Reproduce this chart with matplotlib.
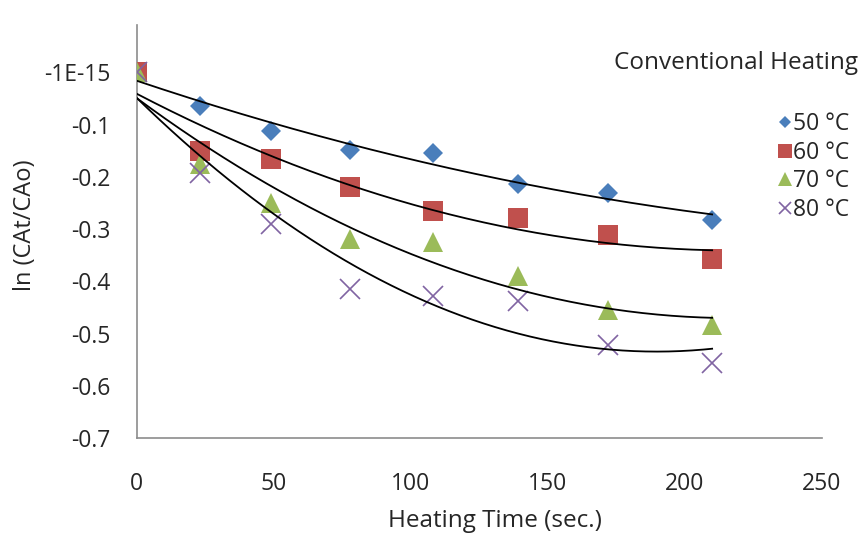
import numpy as np
import matplotlib
matplotlib.use("Agg")
import matplotlib.pyplot as plt
from matplotlib.lines import Line2D

plt.rcParams['font.family'] = ['Open Sans', 'DejaVu Sans']

# ---- data ----
time_s = [0, 23, 49, 78, 108, 139, 172, 210]
t50 = [0.0, -0.064, -0.113, -0.149, -0.155, -0.214, -0.230, -0.282]
t60 = [0.0, -0.150, -0.165, -0.219, -0.266, -0.279, -0.312, -0.358]
t70 = [0.0, -0.176, -0.250, -0.319, -0.325, -0.389, -0.455, -0.484]
t80 = [0.0, -0.193, -0.291, -0.415, -0.428, -0.438, -0.522, -0.557]
series_labels = ['50 °C', '60 °C', '70 °C', '80 °C']
x_ticks = [0, 50, 100, 150, 200, 250]
y_ticks = [0, -0.1, -0.2, -0.3, -0.4, -0.5, -0.6, -0.7]
y_tick_labels = ['-1E-15', '-0.1', '-0.2', '-0.3', '-0.4', '-0.5', '-0.6', '-0.7']

colors = ['#4A7EBB', '#C0504D', '#9BBB59', '#8064A2']
markers = ['D', 's', '^', 'x']
msizes = [10, 14, 14, 14]
leg_msizes = [6, 10, 10, 8]

fig = plt.figure(figsize=(8.65, 5.37), dpi=100)
ax = fig.add_axes([0.158, 0.184, 0.792, 0.769])

handles = []
xs = np.array(time_s, dtype=float)
for ys, c, m, ms, lms, lab in zip([t50, t60, t70, t80], colors, markers, msizes, leg_msizes, series_labels):
    ys = np.array(ys)
    mew = 1.2 if m == 'x' else 0
    ax.plot(xs, ys, linestyle='none', marker=m, color=c, ms=ms, mew=mew, zorder=3)
    # second order polynomial trend line
    coef = np.polyfit(xs, ys, 2)
    xf = np.linspace(xs.min(), xs.max(), 200)
    ax.plot(xf, np.polyval(coef, xf), color='black', lw=1.3, zorder=4)
    handles.append(Line2D([], [], linestyle='none', marker=m, color=c, ms=lms, mew=mew, label=lab))

ax.set_xlim(0, 250)
ax.set_ylim(-0.7, 0.09)
ax.set_xticks(x_ticks)
ax.set_yticks(y_ticks)
ax.set_yticklabels(y_tick_labels)
ax.tick_params(length=0, labelsize=16.5, colors='#262626')
ax.tick_params(axis='x', pad=24.5)
ax.tick_params(axis='y', pad=19)
for s in ['top', 'right']:
    ax.spines[s].set_visible(False)
for s in ['left', 'bottom']:
    ax.spines[s].set_color('#8C8C8C')
    ax.spines[s].set_linewidth(1.2)

ax.set_xlabel('Heating Time (sec.)', fontsize=17.5, color='#262626', va='top')
ax.xaxis.set_label_coords(0.523, -0.172)
ax.set_ylabel('ln (CAt/CAo)', fontsize=17, color='#262626')
ax.yaxis.set_label_coords(-0.146, 0.515)

fig.text(0.992, 0.883, 'Conventional Heating', fontsize=17.5, color='#262626', ha='right', va='center')
leg = fig.legend(handles=handles, loc='upper left', bbox_to_anchor=(0.8995, 0.791),
                 frameon=False, fontsize=16.5, handlelength=0.6, handletextpad=0.06,
                 labelspacing=0.2, borderaxespad=0, borderpad=0, labelcolor='#262626')

fig.savefig('out.png', dpi=100)
